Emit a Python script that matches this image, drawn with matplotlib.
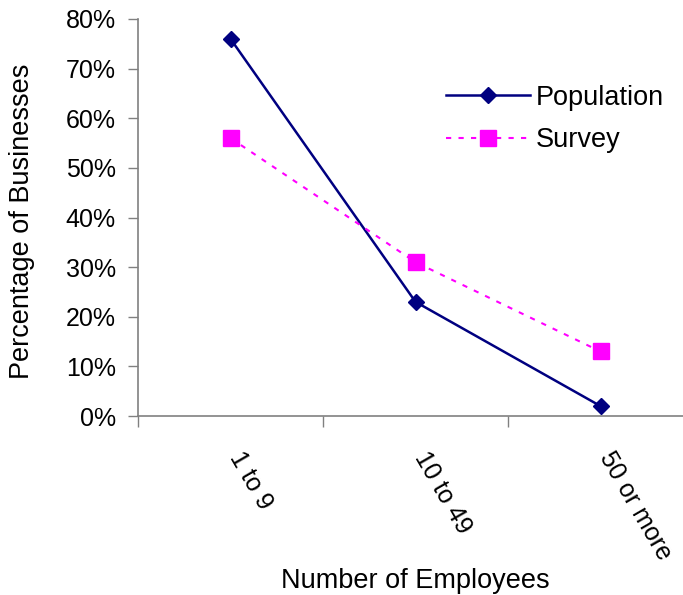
import matplotlib
matplotlib.use("Agg")
import matplotlib.pyplot as plt
from matplotlib.ticker import FuncFormatter, MultipleLocator

plt.rcParams['font.family'] = ['Liberation Sans', 'DejaVu Sans']

categories = ["1 to 9", "10 to 49", "50 or more"]
population = [76, 23, 2]
survey = [56, 31, 13]

fig = plt.figure(figsize=(6.83, 5.95), dpi=100)
ax = fig.add_axes([138 / 683, 1 - 416 / 595, 555 / 683, 397 / 595])

x = list(range(len(categories)))
ax.plot(x, population, color="#000080", lw=1.8, marker="D", ms=8.5,
        label="Population")
ax.plot(x, survey, color="#FF00FF", lw=1.5, ls=(0, (2.5, 3.5)), marker="s",
        ms=11.5, label="Survey")

ax.set_xlim(-0.5, len(categories) - 0.5)
ax.set_ylim(0, 80)
ax.yaxis.set_major_locator(MultipleLocator(10))
ax.yaxis.set_major_formatter(FuncFormatter(lambda v, p: f"{v:.0f}%"))

# category boundaries carry the tick marks; names sit under each category
ax.set_xticks([i - 0.5 for i in range(len(categories) + 1)])
ax.set_xticklabels([])
for i, name in enumerate(categories):
    ax.annotate(name, xy=(i, 0), xycoords=("data", "axes fraction"),
                xytext=(-4.3, -23), textcoords="offset points",
                rotation=-60, ha="left", va="top", fontsize=18,
                annotation_clip=False)
ax.tick_params(axis="x", which="major", length=8, width=1, color="#808080",
               direction="out")
ax.tick_params(axis="y", length=7, width=1, color="#808080", labelsize=18,
               pad=9)

for s in ("top", "right"):
    ax.spines[s].set_visible(False)
for s in ("left", "bottom"):
    ax.spines[s].set_color("#808080")
    ax.spines[s].set_linewidth(1.2)

ax.set_ylabel("Percentage of Businesses", fontsize=19.5)
ax.yaxis.set_label_coords(22 / 683, 1 - 221 / 595, transform=fig.transFigure)
ax.set_xlabel("Number of Employees", fontsize=19.5)
ax.xaxis.set_label_coords(415 / 683, 1 - 581 / 595, transform=fig.transFigure)
ax.xaxis.label.set_va("center")
ax.yaxis.label.set_va("center")

ax.legend(loc="center left", bbox_to_anchor=(446 / 683, 1 - 119 / 595),
          bbox_transform=fig.transFigure, frameon=False, fontsize=19.5,
          handlelength=3.1, handletextpad=0.2, labelspacing=0.6,
          borderpad=0, borderaxespad=0)

fig.savefig("out.png", dpi=100)
